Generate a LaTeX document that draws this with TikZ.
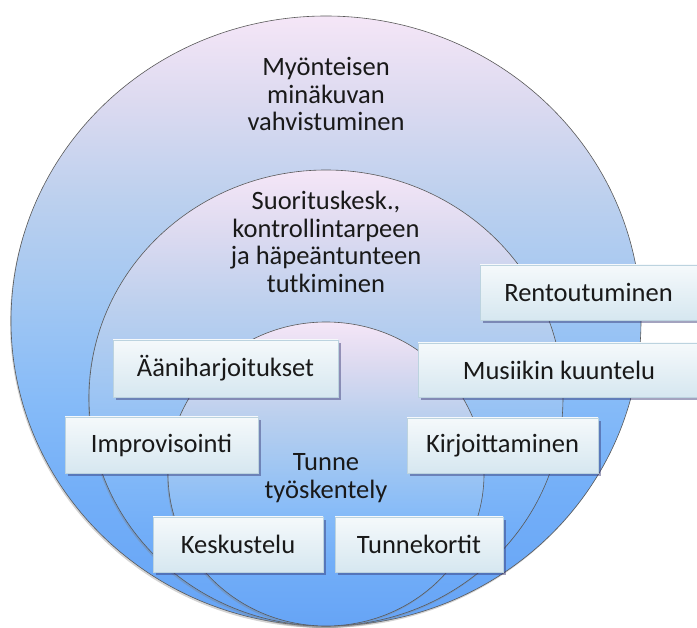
\documentclass[tikz,border=0pt]{standalone}
\usepackage{fontspec}
\setmainfont{Carlito}
\usetikzlibrary{shadows}
\definecolor{ringA}{HTML}{F5E6F7}
\definecolor{ringB}{HTML}{DCDAF0}
\definecolor{ringC}{HTML}{BCD0EE}
\definecolor{ringD}{HTML}{A2C7F2}
\definecolor{ringE}{HTML}{86BBF8}
\definecolor{ringF}{HTML}{72AEF8}
\definecolor{ringG}{HTML}{66A4F6}
\definecolor{boxtop}{HTML}{F5F9FB}
\definecolor{boxbot}{HTML}{D6E7F0}
\definecolor{boxline}{HTML}{BCD3DF}
\pgfdeclareverticalshading{ringshade}{100bp}{color(0bp)=(ringG); color(25bp)=(ringG);
  color(35.5bp)=(ringF); color(43.5bp)=(ringE); color(52bp)=(ringD); color(60bp)=(ringC);
  color(68bp)=(ringB); color(75bp)=(ringA); color(100bp)=(ringA)}
\begin{document}
\begin{tikzpicture}[x=1pt,y=-1pt,line width=.6pt,
  ring/.style={draw=black!65,shading=ringshade,
    drop shadow={opacity=.35,shadow xshift=-1pt,shadow yshift=-2pt}},
  levelText/.style={align=center,inner sep=0pt,text=black!90,font=\fontsize{26.5}{27.5}\selectfont},
  actbox/.style={draw=boxline,line width=.5pt,top color=boxtop,bottom color=boxbot,inner sep=0pt,
    text=black!90,font=\fontsize{26.5}{28}\selectfont,
    drop shadow={opacity=.45,shadow xshift=3pt,shadow yshift=-3pt,fill=black!60!blue!60!gray}}]
\path[use as bounding box] (0,0) rectangle (697,628);
% kehät
\path[ring] (326,321) ellipse [x radius=315,y radius=305];
\path[ring] (326,398) ellipse [x radius=237,y radius=228];
\path[ring] (326,474) ellipse [x radius=158,y radius=152];
% tasojen otsikot
\node[levelText] (minakuva) at (326,94) {Myönteisen\\minäkuvan\\vahvistuminen};
\node[levelText] (suoritus) at (326,242) {Suorituskesk.,\\kontrollintarpeen\\ja häpeäntunteen\\tutkiminen};
\node[levelText] (tunne) at (326,478) {Tunne\\työskentely};
% menetelmät
\node[actbox,minimum width=217pt,minimum height=55pt] (rento) at (588.5,292.5) {Rentoutuminen};
\node[actbox,minimum width=282pt,minimum height=54pt] (musiikki) at (559,370) {Musiikin kuuntelu};
\node[actbox,minimum width=191pt,minimum height=55pt] (kirj) at (502.5,445.5) {Kirjoittaminen};
\node[actbox,minimum width=225pt,minimum height=57pt] (aani) at (225.5,368.5) {Ääniharjoitukset};
\node[actbox,minimum width=193pt,minimum height=56pt] (impro) at (161.5,445) {Improvisointi};
\node[actbox,minimum width=170pt,minimum height=55pt] (kesk) at (238,544.5) {Keskustelu};
\node[actbox,minimum width=168pt,minimum height=55pt] (kortit) at (419,544.5) {Tunnekortit};
\end{tikzpicture}
\end{document}
